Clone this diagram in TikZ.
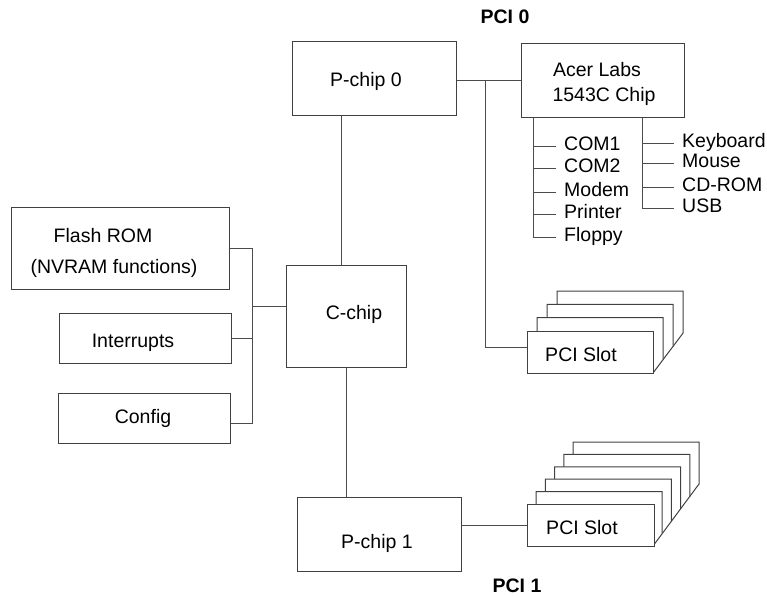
\documentclass[tikz,border=0pt]{standalone}
\usepackage{fontspec}
\setmainfont{Liberation Sans}
\def\slotcard(#1,#2)(#3,#4){\filldraw[card] (#1,#2) -- ++(126,0) -- ++(0,42) -- ++(-#3,#4) -- ++({#3-126},0) -- cycle;}

\begin{document}
\begin{tikzpicture}[x=1pt, y=-1pt, font=\fontsize{19.5}{23}\selectfont,
	box/.style={draw=black!75, line width=1pt, fill=white, inner sep=0pt},
	card/.style={draw=black!75, line width=1pt, fill=white},
	wire/.style={draw=black!70, line width=1pt},
	txt/.style={anchor=base, inner sep=0pt},
	item/.style={anchor=west, inner xsep=8.5pt, inner ysep=0pt, text height=12pt, text depth=4pt}]
			%%%%% START %%%%%
			\useasboundingbox (0,0) rectangle (767,597);
			
			\node[box, minimum width=164pt, minimum height=74pt] (pchipA) at (374,78) {};
			\node[txt] (pchipAtxt) at (366,86) {P-chip 0};
			
			\node[box, minimum width=163pt, minimum height=74pt] (acer) at (602.5,80) {};
			\node[txt] (acertxt) at (597,76) {Acer Labs};
			\node[txt] (acertxtb) at (604,101) {1543C Chip};
			
			\node[box, minimum width=218pt, minimum height=82pt] (flash) at (120,248) {};
			\node[txt] (flashtxt) at (103,242) {Flash ROM};
			\node[txt] (flashtxtb) at (114,273) {(NVRAM functions)};
			
			\node[box, minimum width=120pt, minimum height=102pt] (cchip) at (346,316) {};
			\node[txt] (cchiptxt) at (354,319) {C-chip};
			
			\node[box, minimum width=172pt, minimum height=50pt] (intr) at (145,338) {};
			\node[txt] (intrtxt) at (133,347) {Interrupts};
			
			\node[box, minimum width=172pt, minimum height=50pt] (config) at (144,418) {};
			\node[txt] (configtxt) at (143,423) {Config};
			
			\node[box, minimum width=164pt, minimum height=74pt] (pchipB) at (379,534) {};
			\node[txt] (pchipBtxt) at (377,548) {P-chip 1};
			
			\node[txt, font=\fontsize{19.5}{23}\selectfont\bfseries] (pci0) at (505,23) {PCI 0};
			\node[txt, font=\fontsize{19.5}{23}\selectfont\bfseries] (pci1) at (517,592) {PCI 1};
			
			% slots on PCI 0
			\slotcard(557,291.1)(10,13.3)
			\slotcard(547,304.4)(10,13.3)
			\slotcard(537,317.7)(10,13.3)
			\node[box, minimum width=126pt, minimum height=42pt] (slotA) at (590,352) {};
			\node[txt] (slotAtxt) at (581,361) {PCI Slot};
			
			% slots on PCI 1
			\slotcard(573,442)(9.2,12.4)
			\slotcard(563.8,454.4)(9.2,12.4)
			\slotcard(554.6,466.8)(9.2,12.4)
			\slotcard(545.4,479.2)(9.2,12.4)
			\slotcard(536.2,491.6)(9.2,12.4)
			\node[box, minimum width=127pt, minimum height=42pt] (slotB) at (590.5,525) {};
			\node[txt] (slotBtxt) at (582,534) {PCI Slot};
			
			% devices on the Acer chip
			\coordinate (stemL) at (533,0);
			\coordinate (stemR) at (642,0);
			\node[item] (com1) at (555.5,146) {COM1};
			\node[item] (com2) at (555.5,168) {COM2};
			\node[item] (modem) at (555.5,192) {Modem};
			\node[item] (printer) at (555.5,214) {Printer};
			\node[item] (floppy) at (555.5,237) {Floppy};
			\node[item] (keyb) at (673.5,143) {Keyboard};
			\node[item] (mouse) at (673.5,163) {Mouse};
			\node[item] (cdrom) at (673.5,187) {CD-ROM};
			\node[item] (usb) at (673.5,208) {USB};
			
			\draw[wire] (acer.south -| stemL) |- (floppy.west);
			\draw[wire] (com1.west) -- (com1.west -| stemL);
			\draw[wire] (com2.west) -- (com2.west -| stemL);
			\draw[wire] (modem.west) -- (modem.west -| stemL);
			\draw[wire] (printer.west) -- (printer.west -| stemL);
			
			\draw[wire] (acer.south -| stemR) |- (usb.west);
			\draw[wire] (keyb.west) -- (keyb.west -| stemR);
			\draw[wire] (mouse.west) -- (mouse.west -| stemR);
			\draw[wire] (cdrom.west) -- (cdrom.west -| stemR);
			
			% PCI 0 bus
			\coordinate (tap0) at (485,80);
			\draw[wire] (acer.west -| pchipA.east) -- (acer.west);
			\draw[wire] (tap0) |- ([yshift=5pt]slotA.west);
			
			% chip to chip
			\coordinate (spine) at (341,0);
			\draw[wire] (pchipA.south -| spine) -- (cchip.north -| spine);
			\draw[wire] (cchip.south) -- (cchip.south |- pchipB.north);
			\draw[wire] (slotB.west -| pchipB.east) -- (slotB.west);
			
			% left bus
			\coordinate (lbus) at (252,0);
			\coordinate (cfgtap) at ([yshift=-5pt]config.east);
			\coordinate (cin) at ([yshift=10pt]cchip.west);
			\draw[wire] (flash.east) -| (cfgtap -| lbus) -- (cfgtap);
			\draw[wire] (intr.east) -- (intr.east -| lbus);
			\draw[wire] (cin -| lbus) -- (cin);
			
			%%%%% END %%%%%
\end{tikzpicture}
\end{document}
